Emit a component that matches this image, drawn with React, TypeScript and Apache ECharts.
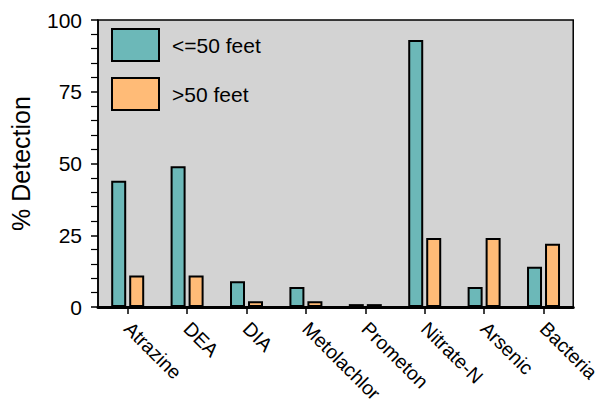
import React, { useEffect, useRef } from "react";
import * as echarts from "echarts";

const categories = ["Atrazine", "DEA", "DIA", "Metolachlor", "Prometon", "Nitrate-N", "Arsenic", "Bacteria"];
const shallow = [44, 49, 9, 7, 1, 93, 7, 14];
const deep = [11, 11, 2, 2, 1, 24, 24, 22];
const seriesNames = ["<=50 feet", ">50 feet"];

export default function App() {
  const ref = useRef<HTMLDivElement>(null);
  useEffect(() => {
    document.body.style.margin = "0";
    const chart = echarts.init(ref.current!, null, { renderer: "svg" });
    const font = "Liberation Sans, Arial, sans-serif";
    chart.setOption({
      animation: false,
      textStyle: { fontFamily: font },
      grid: {
        left: 97, right: 26, top: 20, bottom: 104,
        show: true, backgroundColor: "#d3d3d3", borderColor: "#000", borderWidth: 1.5,
      },
      legend: {
        orient: "vertical", left: 111, top: 28, padding: 0, itemWidth: 47, itemHeight: 32, itemGap: 15,
        icon: "rect",
        itemStyle: { borderColor: "#000", borderWidth: 2 },
        textStyle: { fontSize: 21, color: "#000", fontFamily: font, padding: [0, 0, 0, 8] },
        data: seriesNames,
        selectedMode: false,
      },
      xAxis: {
        type: "category",
        data: categories,
        axisLine: { lineStyle: { color: "#000", width: 3 } },
        axisTick: { show: true, alignWithLabel: true, length: 7, lineStyle: { color: "#000", width: 1.5 } },
        axisLabel: { rotate: -45, fontSize: 19.5, color: "#000", margin: 18, fontFamily: font },
      },
      yAxis: {
        type: "value",
        min: 0, max: 100, interval: 25,
        name: "% Detection",
        nameLocation: "middle",
        nameGap: 65,
        nameTextStyle: { fontSize: 25, color: "#000", fontFamily: font },
        axisLine: { show: true, lineStyle: { color: "#000", width: 1.5 } },
        axisTick: { show: true, length: 7, lineStyle: { color: "#000", width: 1.5 } },
        minorTick: { show: true, splitNumber: 5, length: 7, lineStyle: { color: "#000", width: 1.2 } },
        splitLine: { show: false },
        axisLabel: { fontSize: 21, color: "#000", margin: 16, fontFamily: font },
      },
      series: [
        {
          name: seriesNames[0], type: "bar", data: shallow, barWidth: 15, barGap: "20%",
          itemStyle: { color: "#6cb8b8", borderColor: "#000", borderWidth: 2 },
        },
        {
          name: seriesNames[1], type: "bar", data: deep, barWidth: 15,
          itemStyle: { color: "#ffbb77", borderColor: "#000", borderWidth: 2 },
        },
      ],
    });
    return () => chart.dispose();
  }, []);
  return <div ref={ref} style={{ width: 603, height: 411 }} />;
}
